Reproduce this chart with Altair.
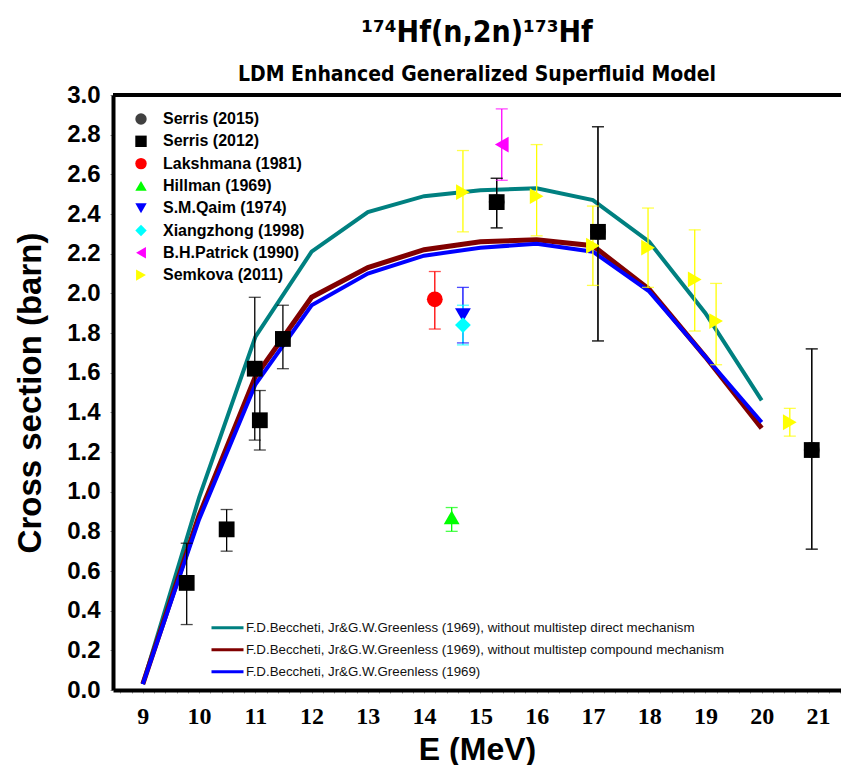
import altair as alt
import pandas as pd

# ---------------- model curves ----------------
model_E = [9, 10, 11, 12, 13, 14, 15, 16, 17, 18, 19, 20]
model_names = [
    "F.D.Beccheti, Jr&G.W.Greenless (1969), without multistep direct mechanism",
    "F.D.Beccheti, Jr&G.W.Greenless (1969), without multistep compound mechanism",
    "F.D.Beccheti, Jr&G.W.Greenless (1969)",
]
model_colors = ["#008080", "#800000", "#0000FF"]
model_widths = [4, 5, 4]
no_msd = [0.03, 0.97, 1.78, 2.21, 2.41, 2.49, 2.52, 2.53, 2.47, 2.26, 1.90, 1.46]
no_msc = [0.03, 0.88, 1.58, 1.98, 2.13, 2.22, 2.26, 2.27, 2.24, 2.02, 1.68, 1.32]
full = [0.03, 0.86, 1.54, 1.94, 2.10, 2.19, 2.23, 2.25, 2.21, 2.01, 1.68, 1.35]

# ---------------- experimental data ----------------
exp_names = ["Serris (2015)", "Serris (2012)", "Lakshmana (1981)", "Hillman (1969)",
             "S.M.Qaim (1974)", "Xiangzhong (1998)", "B.H.Patrick (1990)", "Semkova (2011)"]
exp_colors = ["#404040", "#000000", "#FF0000", "#00FF00", "#0000FF", "#00FFFF", "#FF00FF", "#FFFF00"]
exp_shape = ["circle", "square", "circle", "triangle-up", "triangle-down", "diamond",
             "triangle-left", "triangle-right"]

semkova_E = [14.69, 16.0, 17.0, 17.98, 18.81, 19.19, 20.5]
semkova_v = [2.51, 2.49, 2.24, 2.23, 2.07, 1.86, 1.35]
semkova_lo = [2.31, 2.29, 2.04, 2.03, 1.81, 1.64, 1.28]
semkova_hi = [2.72, 2.75, 2.44, 2.43, 2.32, 2.05, 1.42]

patrick_E = [15.38]
patrick_v = [2.75]
patrick_lo = [2.57]
patrick_hi = [2.93]

qaim_E = [14.69]
qaim_v = [1.89]
qaim_lo = [1.75]
qaim_hi = [2.03]

xiang_E = [14.69]
xiang_v = [1.84]
xiang_lo = [1.74]
xiang_hi = [1.94]

hillman_E = [14.49]
hillman_v = [0.87]
hillman_lo = [0.80]
hillman_hi = [0.92]

laksh_E = [14.19]
laksh_v = [1.97]
laksh_lo = [1.82]
laksh_hi = [2.11]

serris15_E = [15.29, 17.09, 20.89]
serris15_v = [2.46, 2.31, 1.21]
serris15_lo = [2.33, 1.76, 0.71]
serris15_hi = [2.58, 2.84, 1.72]

serris12_E = [9.78, 10.49, 10.99, 11.08, 11.49, 15.29, 17.09, 20.89]
serris12_v = [0.54, 0.81, 1.62, 1.36, 1.77, 2.46, 2.31, 1.21]
serris12_lo = [0.33, 0.70, 1.26, 1.21, 1.62, 2.33, 1.76, 0.71]
serris12_hi = [0.74, 0.91, 1.98, 1.51, 1.94, 2.58, 2.84, 1.72]

x_ticks = [round(8.6 + 0.2 * i, 1) for i in range(65)]
y_ticks = [round(0.2 * i, 1) for i in range(16)]
x_dom = [8.47, 21.41]

# ---------------- tables ----------------
model_df = pd.DataFrame(
    [{"model": model_names[k], "E": e, "v": v}
     for k, ser in enumerate([no_msd, no_msc, full])
     for e, v in zip(model_E, ser)]
)

series_in_draw_order = [
    ("Semkova (2011)", semkova_E, semkova_v, semkova_lo, semkova_hi),
    ("B.H.Patrick (1990)", patrick_E, patrick_v, patrick_lo, patrick_hi),
    ("S.M.Qaim (1974)", qaim_E, qaim_v, qaim_lo, qaim_hi),
    ("Xiangzhong (1998)", xiang_E, xiang_v, xiang_lo, xiang_hi),
    ("Hillman (1969)", hillman_E, hillman_v, hillman_lo, hillman_hi),
    ("Lakshmana (1981)", laksh_E, laksh_v, laksh_lo, laksh_hi),
    ("Serris (2015)", serris15_E, serris15_v, serris15_lo, serris15_hi),
    ("Serris (2012)", serris12_E, serris12_v, serris12_lo, serris12_hi),
]
rows = []
for i, (name, es, vs, los, his) in enumerate(series_in_draw_order):
    for j, (e, v, lo, hi) in enumerate(zip(es, vs, los, his)):
        rows.append({"series": name, "E": e, "v": v,
                     "lo": lo, "hi": hi, "ord": i * 100 + j})
exp_df = pd.DataFrame(rows)

frame_df = pd.DataFrame({"x1": [x_dom[0]], "x2": [x_dom[1]], "y": [3.0]})

# ---------------- encodings ----------------
x_axis = alt.Axis(
    values=x_ticks,
    labelExpr="abs(datum.value - round(datum.value)) < 0.01 ? format(datum.value, 'd') : ''",
    labelOverlap=False,
    title="E (MeV)",
    titleFont="Liberation Sans", titleFontSize=32, titleFontWeight="bold", titleColor="black",
    titlePadding=6,
    labelFont="Liberation Serif", labelFontSize=24, labelFontWeight="bold", labelColor="black",
    labelPadding=11,
    tickSize=3, tickColor="#999999", tickWidth=1,
    domainColor="black", domainWidth=4, grid=False,
)
y_axis = alt.Axis(
    values=y_ticks, format=".1f", labelOverlap=False,
    title="Cross section (barn)",
    titleFont="Liberation Sans", titleFontSize=33, titleFontWeight="bold", titleColor="black",
    titlePadding=19,
    labelFont="Liberation Sans", labelFontSize=24, labelFontWeight="bold", labelColor="black",
    labelPadding=10,
    tickSize=3, tickColor="#999999", tickWidth=1,
    domainColor="black", domainWidth=4, grid=False,
)
xs = alt.Scale(domain=x_dom, nice=False, zero=False)
ys = alt.Scale(domain=[0, 3.0], nice=False, zero=True)


def X(field):
    return alt.X(field, type="quantitative", scale=xs, axis=x_axis)


def Y(field):
    return alt.Y(field, type="quantitative", scale=ys, axis=y_axis)


stroke_scale = alt.Scale(domain=model_names, range=model_colors)
stroke_legend = alt.Legend(
    title=None, orient="none", legendX=97, legendY=522,
    symbolType="stroke", symbolSize=1024, symbolStrokeWidth=3, symbolOpacity=1,
    labelFont="Liberation Sans", labelFontSize=13.3, labelColor="#111111",
    labelOffset=1, rowPadding=0, clipHeight=21.5, padding=0, labelLimit=800,
)

color_scale = alt.Scale(domain=exp_names, range=exp_colors)
shape_scale = alt.Scale(domain=exp_names, range=exp_shape)
exp_legend = alt.Legend(
    title=None, orient="none", legendX=20, legendY=16,
    symbolSize=130, symbolStrokeWidth=0, symbolOpacity=1,
    labelFont="Liberation Sans", labelFontSize=16, labelFontWeight="bold", labelColor="black",
    labelOffset=14, rowPadding=6.3, padding=0, labelLimit=400,
)
exp_color = alt.Color("series:N", scale=color_scale, legend=exp_legend)

# ---------------- layers ----------------
frame = alt.Chart(frame_df).mark_rule(color="black", strokeWidth=4).encode(
    x=X("x1"), x2="x2:Q", y=Y("y"),
)

line_layers = []
for name, w in zip(model_names, model_widths):
    line_layers.append(
        alt.Chart(model_df).transform_filter(alt.datum.model == name)
        .mark_line(strokeWidth=w, strokeJoin="miter")
        .encode(
            x=X("E"), y=Y("v"),
            stroke=alt.Stroke("model:N", scale=stroke_scale, legend=stroke_legend),
        )
    )

err_bars = alt.Chart(exp_df).mark_rule(strokeWidth=1.3).encode(
    x=X("E"), y=Y("lo"), y2="hi:Q", color=exp_color,
)
caps_lo = alt.Chart(exp_df).mark_tick(orient="horizontal", size=12, thickness=1.3).encode(
    x=X("E"), y=Y("lo"), color=exp_color,
)
caps_hi = alt.Chart(exp_df).mark_tick(orient="horizontal", size=12, thickness=1.3).encode(
    x=X("E"), y=Y("hi"), color=exp_color,
)

points = alt.Chart(exp_df).mark_point(filled=True, size=250, opacity=1, strokeWidth=0).encode(
    x=X("E"), y=Y("v"),
    color=exp_color,
    shape=alt.Shape("series:N", scale=shape_scale, legend=exp_legend),
    order=alt.Order("ord:Q"),
)

narrow = "Liberation Sans Narrow, DejaVu Sans Condensed, Liberation Sans"

chart = alt.layer(
    frame, *line_layers, err_bars, caps_lo, caps_hi, points
).properties(
    width=728, height=595,
    padding={"left": 113, "top": 95, "right": 0, "bottom": 75},
    autosize=alt.AutoSizeParams(type="none"),
    title=alt.TitleParams(
        text="¹⁷⁴Hf(n,2n)¹⁷³Hf",
        subtitle="LDM Enhanced Generalized Superfluid Model",
        font=narrow, fontSize=30, fontWeight="bold", color="black",
        subtitleFont=narrow, subtitleFontSize=21, subtitleFontWeight="bold",
        subtitleColor="black", subtitlePadding=16,
        anchor="middle", offset=-2,
    ),
).configure_view(stroke=None).configure(background="white")

chart.save("out.html", embed_options={"renderer": "svg", "actions": False})
